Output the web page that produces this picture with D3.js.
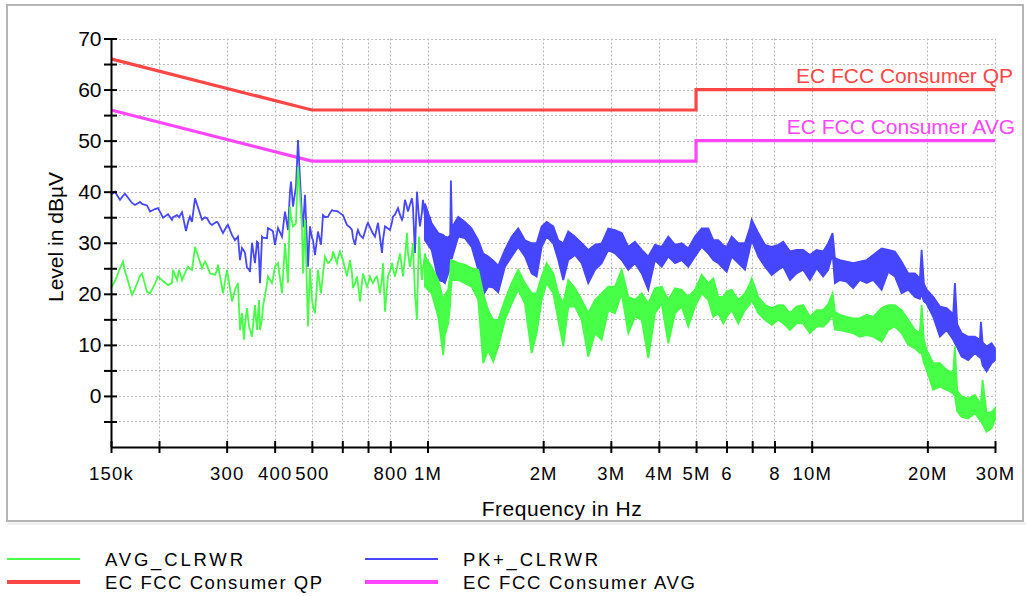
<!DOCTYPE html>
<html>
<head>
<meta charset="utf-8">
<script src="https://cdn.jsdelivr.net/npm/d3@7"></script>
<style>
  body { margin: 0; background: #fff; }
  svg { display: block; }
  text { font-family: "Liberation Sans", Arial, sans-serif; }
</style>
</head>
<body>
<div id="chart"></div>
<script>
// axis ticks (frequency in MHz)
const xTickVals = [0.15, 0.2, 0.3, 0.4, 0.5, 0.6, 0.7, 0.8, 1, 2, 3, 4, 5, 6, 7, 8, 10, 20, 30];
const xTickLabels = ['150k', '', '300', '400', '500', '', '', '800', '1M', '2M', '3M', '4M', '5M', '6', '', '8', '10M', '20M', '30M'];
const yTickVals = [-5, 0, 5, 10, 15, 20, 25, 30, 35, 40, 45, 50, 55, 60, 65, 70];

// limit lines
const limitFreq = [0.15, 0.5, 5, 5, 30];
const qpLimit = [66, 56, 56, 60, 60];
const avgLimit = [56, 46, 46, 50, 50];

// low frequency part, single trace points
const lowFreq = [0.1500, 0.1536, 0.1583, 0.1612, 0.1631, 0.1701, 0.1732, 0.1785, 0.1806, 0.1861,
  0.1895, 0.1953, 0.1988, 0.2049, 0.2111, 0.2162, 0.2175, 0.2228, 0.2255, 0.2296,
  0.2351, 0.2380, 0.2408, 0.2437, 0.2482, 0.2588, 0.2635, 0.2667, 0.2715, 0.2748,
  0.2798, 0.2831, 0.2848, 0.2935, 0.3006, 0.3024, 0.3098, 0.3154, 0.3211, 0.3250,
  0.3289, 0.3329, 0.3349, 0.3389, 0.3430, 0.3451, 0.3492, 0.3555, 0.3598, 0.3620,
  0.3642, 0.3664, 0.3708, 0.3730, 0.3821, 0.3843, 0.3937, 0.3960, 0.4008, 0.4081,
  0.4180, 0.4256, 0.4333, 0.4385, 0.4412, 0.4465, 0.4546, 0.4601, 0.4712, 0.4740,
  0.4798, 0.4885, 0.4943, 0.5003, 0.5033, 0.5094, 0.5186, 0.5281, 0.5344, 0.5409,
  0.5507, 0.5573, 0.5640, 0.5674, 0.5812, 0.5847, 0.5917, 0.6024, 0.6170, 0.6282,
  0.6358, 0.6396, 0.6473, 0.6551, 0.6591, 0.6670, 0.6792, 0.6957, 0.6999, 0.7083,
  0.7168, 0.7211, 0.7298, 0.7386, 0.7431, 0.7520, 0.7611, 0.7657, 0.7749, 0.7889,
  0.7985, 0.8081, 0.8129, 0.8227, 0.8377, 0.8478, 0.8580, 0.8631, 0.8735, 0.8841,
  0.8894, 0.9001, 0.9109, 0.9164, 0.9275, 0.9386, 0.9499, 0.9557, 0.9672, 0.9730,
  0.9849, 0.9968, 1.0028, 1.0148, 1.0332];
const pkLow = [39.4, 40.0, 38.4, 39.2, 39.6, 37.8, 37.4, 38.0, 37.6, 37.3,
  36.1, 36.6, 36.8, 34.9, 35.6, 34.5, 35.0, 35.4, 35.0, 36.0,
  32.3, 34.0, 35.1, 34.1, 38.7, 34.5, 35.0, 34.8, 33.8, 33.5,
  33.9, 34.1, 33.9, 31.9, 33.3, 33.5, 31.5, 30.5, 31.2, 26.6,
  29.0, 28.4, 28.0, 25.1, 24.8, 24.3, 30.0, 26.0, 30.2, 30.0,
  27.0, 22.1, 31.2, 31.0, 30.9, 32.9, 32.4, 32.2, 29.6, 32.9,
  31.2, 36.1, 32.5, 40.0, 42.0, 37.1, 41.0, 50.1, 35.1, 33.0,
  39.4, 25.3, 33.2, 31.0, 30.5, 27.6, 32.2, 29.6, 35.4, 35.0,
  35.1, 35.8, 36.4, 36.3, 36.2, 36.1, 35.8, 35.4, 33.5, 33.0,
  32.5, 31.0, 29.6, 31.8, 32.5, 31.5, 30.9, 33.5, 33.9, 33.0,
  32.2, 31.8, 31.2, 33.0, 33.9, 31.0, 28.0, 30.5, 33.2, 32.8,
  32.5, 34.0, 35.1, 35.5, 36.8, 35.5, 34.5, 35.0, 38.4, 37.0,
  36.1, 37.5, 38.7, 37.0, 28.0, 40.0, 35.0, 33.2, 36.0, 38.4,
  35.0, 32.5, 34.0, 35.1, 28.6];
const avgLow = [21.1, 22.5, 25.0, 26.3, 24.5, 19.8, 21.0, 23.5, 24.0, 20.4,
  20.1, 22.0, 23.4, 22.5, 21.7, 22.1, 24.7, 22.7, 24.7, 22.7,
  24.5, 25.3, 24.9, 24.7, 29.2, 25.0, 26.3, 25.5, 24.0, 23.9,
  23.7, 24.6, 25.7, 20.1, 24.7, 23.5, 18.5, 20.8, 22.1, 12.9,
  16.2, 11.0, 14.0, 17.2, 13.6, 13.0, 11.6, 17.8, 12.9, 16.0,
  18.8, 12.9, 15.0, 17.5, 22.0, 23.4, 22.1, 23.0, 25.3, 26.0,
  20.1, 29.9, 22.1, 37.1, 35.0, 33.2, 33.8, 44.9, 33.2, 24.0,
  34.5, 13.6, 25.0, 18.8, 17.5, 16.2, 24.7, 20.1, 24.0, 27.3,
  26.0, 26.3, 27.0, 28.3, 26.0, 27.0, 28.3, 26.6, 23.4, 26.6,
  24.0, 21.1, 22.0, 23.4, 22.0, 18.5, 24.0, 21.4, 22.0, 23.4,
  22.5, 22.1, 23.0, 23.4, 22.5, 20.1, 23.0, 26.0, 16.5, 23.4,
  24.5, 26.0, 25.0, 23.4, 26.0, 27.9, 25.0, 23.4, 27.0, 31.9,
  28.0, 25.3, 28.0, 29.9, 20.0, 14.9, 31.2, 28.0, 22.7, 25.0,
  27.9, 24.0, 20.8, 24.0, 23.4];

// dense part above 1 MHz: upper / lower edge of each trace
const bandFreq = [0.9845, 1.0249, 1.0662, 1.0987, 1.1099, 1.1321, 1.1457, 1.1506, 1.1575, 1.2022,
  1.2515, 1.3025, 1.3550, 1.3962, 1.4387, 1.4826, 1.5277, 1.5903, 1.6555, 1.7223,
  1.7929, 1.8664, 1.9232, 1.9817, 2.0420, 2.1245, 2.1892, 2.2559, 2.3246, 2.4199,
  2.5190, 2.6206, 2.7280, 2.8400, 2.9547, 3.0758, 3.2019, 3.3310, 3.4675, 3.6097,
  3.7554, 3.9093, 4.0695, 4.2336, 4.4070, 4.5876, 4.7726, 4.9682, 5.1717, 5.3804,
  5.5441, 5.7129, 5.8868, 6.0081, 6.1907, 6.4403, 6.7041, 6.9081, 6.9789, 7.2611,
  7.5584, 7.8681, 8.1856, 8.4348, 8.7810, 9.1313, 9.5002, 9.8926, 10.298, 10.713,
  11.039, 11.334, 11.491, 11.840, 12.326, 12.823, 13.349, 13.896, 14.457, 15.203,
  15.817, 16.465, 17.140, 17.832, 18.563, 19.128, 19.324, 19.592, 19.912, 20.716,
  21.565, 22.448, 23.354, 23.593, 23.920, 24.559, 25.550, 26.597, 27.407, 27.571,
  27.852, 28.527, 29.392, 30.0];
const pkHi = [37.7, 33.8, 31.9, 31.5, 31.2, 31.0, 31.5, 42.2, 33.0, 35.1,
  34.1, 32.8, 30.5, 27.9, 27.3, 26.5, 25.5, 28.6, 31.2, 32.8,
  30.5, 29.9, 29.9, 33.2, 34.1, 33.2, 30.5, 29.9, 32.2, 31.2,
  29.9, 28.6, 29.6, 29.9, 32.8, 32.5, 31.9, 29.2, 30.2, 28.6,
  27.3, 29.6, 29.2, 31.2, 29.6, 29.9, 28.9, 31.2, 32.8, 32.8,
  30.5, 30.5, 29.5, 29.2, 31.2, 29.9, 29.9, 33.0, 34.5, 31.9,
  29.6, 29.2, 29.6, 30.2, 28.3, 28.6, 28.6, 27.6, 28.6, 28.3,
  29.9, 31.9, 27.0, 26.6, 26.3, 26.0, 26.3, 26.6, 27.6, 28.9,
  28.6, 28.3, 26.3, 24.0, 24.0, 23.0, 28.6, 22.0, 20.8, 19.4,
  17.5, 17.2, 16.0, 22.1, 14.0, 12.3, 11.6, 11.6, 11.0, 14.5,
  10.5, 9.7, 10.3, 9.3];
const pkLo = [30.5, 28.6, 22.7, 22.4, 22.1, 24.0, 25.0, 27.0, 27.0, 31.2,
  30.9, 29.2, 24.7, 19.8, 21.4, 21.2, 20.3, 25.3, 27.3, 29.2,
  27.3, 24.0, 23.4, 29.2, 31.2, 29.9, 26.6, 22.7, 26.6, 27.6,
  26.0, 22.1, 24.7, 26.0, 28.6, 27.9, 26.6, 24.7, 26.0, 24.0,
  20.8, 26.6, 25.3, 27.3, 26.0, 26.6, 25.3, 27.3, 29.2, 27.9,
  26.6, 26.0, 25.0, 24.3, 27.3, 26.0, 24.7, 29.0, 30.5, 27.3,
  25.3, 23.7, 24.7, 25.3, 22.7, 24.0, 24.7, 22.7, 25.0, 23.4,
  24.7, 27.9, 22.1, 22.7, 22.4, 21.1, 22.7, 22.1, 22.7, 20.8,
  24.3, 23.4, 20.1, 20.8, 19.4, 19.0, 20.0, 18.5, 18.1, 15.5,
  11.6, 12.9, 11.0, 10.3, 9.5, 7.7, 7.0, 8.4, 7.5, 7.5,
  6.0, 4.8, 6.4, 7.0];
const avgHi = [27.3, 25.3, 22.7, 18.8, 19.8, 20.8, 24.0, 26.6, 26.6, 26.0,
  25.7, 25.0, 24.7, 20.1, 16.8, 14.9, 14.9, 18.8, 22.1, 24.7,
  22.1, 20.1, 20.1, 23.4, 26.0, 24.0, 20.1, 18.1, 22.7, 21.1,
  18.8, 16.2, 18.8, 20.1, 21.4, 21.4, 24.7, 19.4, 18.8, 20.1,
  18.1, 21.1, 21.4, 18.8, 21.1, 20.8, 19.4, 20.8, 23.7, 22.1,
  23.0, 19.4, 19.4, 20.5, 20.8, 18.8, 20.1, 22.0, 23.0, 19.4,
  17.8, 17.2, 17.8, 17.8, 16.2, 17.5, 17.8, 15.5, 16.8, 16.8,
  18.0, 20.1, 16.5, 15.9, 15.5, 15.2, 15.2, 15.9, 15.5, 17.2,
  17.8, 17.8, 16.8, 14.9, 12.9, 12.3, 17.8, 11.0, 9.0, 6.4,
  6.4, 5.1, 4.5, 9.7, 1.0, -0.1, -0.5, 0.2, -1.4, -1.4,
  3.1, -3.4, -3.1, -2.4];
const avgLo = [21.4, 20.1, 15.5, 8.0, 12.0, 14.2, 18.0, 21.0, 22.7, 22.7,
  22.1, 21.4, 18.8, 6.4, 9.0, 6.7, 9.7, 14.9, 18.1, 20.8,
  18.1, 8.4, 12.3, 18.8, 22.1, 20.1, 14.9, 9.7, 17.5, 17.5,
  14.9, 7.7, 12.3, 11.0, 16.8, 16.2, 20.1, 12.3, 15.5, 14.9,
  7.4, 16.2, 18.1, 10.3, 16.2, 17.5, 13.6, 17.5, 20.1, 18.8,
  15.5, 16.2, 14.2, 15.5, 16.8, 14.2, 16.8, 18.0, 18.8, 16.2,
  14.9, 13.9, 14.9, 14.2, 12.9, 14.2, 14.2, 12.3, 13.6, 13.6,
  14.5, 15.9, 13.0, 12.9, 12.6, 12.3, 11.6, 11.9, 11.6, 10.6,
  12.9, 13.6, 12.3, 10.0, 9.3, 8.4, 8.4, 6.5, 5.1, 1.2,
  1.8, 1.2, 0.5, 0.0, -3.0, -4.1, -4.4, -3.4, -4.7, -5.0,
  -5.5, -7.0, -6.3, -4.7];

const w = 1026;
const h = 596;
const colPk = '#4646ff';
const colAvg = '#46ff46';
const colQp = '#ff4646';
const colAvgLim = '#ff46ff';

const svg = d3.select('#chart').
  append('svg').
  attr('width', w).
  attr('height', h);

// frame
svg.append('rect').
  attr('x', 7).attr('y', 5).
  attr('width', 1016).attr('height', 516).
  attr('fill', 'none').
  attr('stroke', '#b4b4b4').
  attr('stroke-width', 2);
svg.append('line').
  attr('x1', 7).attr('x2', 1026).attr('y1', 523.5).attr('y2', 523.5).
  attr('stroke', '#ececec').attr('stroke-width', 2);

const xScale = d3.scaleLog().domain([0.15, 30]).range([111, 995]);
const yScale = d3.scaleLinear().domain([-10, 70]).range([447, 38.5]);

// grid
const grid = svg.append('g').
  attr('stroke', '#b8b8b8').
  attr('stroke-width', 1).
  attr('stroke-dasharray', '2,2');
grid.selectAll('.vg').
  data(xTickVals.slice(1)).
  enter().
  append('line').
  attr('x1', d => Math.round(xScale(d)) + 0.5).
  attr('x2', d => Math.round(xScale(d)) + 0.5).
  attr('y1', yScale(70)).
  attr('y2', yScale(-10));
grid.selectAll('.hg').
  data(yTickVals).
  enter().
  append('line').
  attr('x1', xScale(0.15)).
  attr('x2', xScale(30)).
  attr('y1', d => Math.round(yScale(d)) + 0.5).
  attr('y2', d => Math.round(yScale(d)) + 0.5);

// limit lines
const limitLine = d3.line().
  x(d => xScale(d[0])).
  y(d => yScale(d[1]));
svg.append('path').
  attr('d', limitLine(limitFreq.map((f, i) => [f, qpLimit[i]]))).
  attr('fill', 'none').
  attr('stroke', colQp).
  attr('stroke-width', 3.2);
svg.append('path').
  attr('d', limitLine(limitFreq.map((f, i) => [f, avgLimit[i]]))).
  attr('fill', 'none').
  attr('stroke', colAvgLim).
  attr('stroke-width', 3.2);

// traces
const traceLine = d3.line().
  x(d => xScale(d[0])).
  y(d => yScale(d[1]));
const band = d3.area().
  x(d => xScale(d[0])).
  y0(d => yScale(d[2])).
  y1(d => yScale(d[1]));

function drawTrace(vals, hi, lo, col) {
  svg.append('path').
    attr('d', band(bandFreq.map((f, i) => [f, hi[i], lo[i]]))).
    attr('fill', col).
    attr('stroke', col).
    attr('stroke-width', 1.8).
    attr('stroke-linejoin', 'miter');
  svg.append('path').
    attr('d', traceLine(lowFreq.map((f, i) => [f, vals[i]]))).
    attr('fill', 'none').
    attr('stroke', col).
    attr('stroke-width', 1.8);
}
drawTrace(pkLow, pkHi, pkLo, colPk);
drawTrace(avgLow, avgHi, avgLo, colAvg);

// axes
const yAxis = d3.axisLeft(yScale).
  tickValues(yTickVals).
  tickSizeInner(7).
  tickSizeOuter(0).
  tickFormat(d => d % 10 === 0 ? d : '');
const gy = svg.append('g').
  attr('transform', 'translate(111,0)').
  call(yAxis);
gy.select('.domain').attr('stroke', '#000').attr('stroke-width', 2);
gy.selectAll('.tick line').attr('x1', 6).attr('stroke-width', 2);
gy.selectAll('.tick text').
  attr('x', -9.5).
  attr('font-size', 21).
  attr('font-family', '"Liberation Sans", Arial, sans-serif').
  attr('fill', '#000');

const xAxis = d3.axisBottom(xScale).
  tickValues(xTickVals).
  tickSizeInner(6).
  tickSizeOuter(0).
  tickFormat((d, i) => xTickLabels[i]);
const gx = svg.append('g').
  attr('transform', 'translate(0,447)').
  call(xAxis);
gx.select('.domain').attr('stroke', '#000').attr('stroke-width', 2);
gx.selectAll('.tick line').attr('y1', -6).attr('stroke-width', 2);
gx.selectAll('.tick text').
  attr('y', 33).
  attr('dy', 0).
  attr('font-size', 18.5).
  attr('letter-spacing', 1.2).
  attr('font-family', '"Liberation Sans", Arial, sans-serif').
  attr('fill', '#000');

// axis titles
svg.append('text').
  attr('transform', 'translate(63,237) rotate(-90)').
  attr('text-anchor', 'middle').
  attr('font-size', 21).
  text('Level in dBµV');
svg.append('text').
  attr('x', 562).
  attr('y', 516).
  attr('text-anchor', 'middle').
  attr('font-size', 21).
  attr('letter-spacing', 0.5).
  text('Frequency in Hz');

// limit labels
svg.append('text').
  attr('x', 1013).
  attr('y', yScale(60) - 7).
  attr('text-anchor', 'end').
  attr('font-size', 21).
  attr('fill', colQp).
  text('EC FCC Consumer QP');
svg.append('text').
  attr('x', 1015).
  attr('y', yScale(50) - 7).
  attr('text-anchor', 'end').
  attr('font-size', 21).
  attr('fill', colAvgLim).
  text('EC FCC Consumer AVG');

// legend
const legendItems = [
  { name: 'AVG_CLRWR', col: colAvg, sw: 2, x: 7, tx: 105, y: 559, len: 138 },
  { name: 'PK+_CLRWR', col: colPk, sw: 2, x: 365, tx: 463, y: 559, len: 135 },
  { name: 'EC FCC Consumer QP', col: colQp, sw: 4, x: 7, tx: 105, y: 582, len: 217 },
  { name: 'EC FCC Consumer AVG', col: colAvgLim, sw: 4, x: 365, tx: 463, y: 582, len: 232 }
];
const leg = svg.selectAll('.leg').
  data(legendItems).
  enter().
  append('g');
leg.append('line').
  attr('x1', d => d.x).
  attr('x2', d => d.x + 73).
  attr('y1', d => d.y).
  attr('y2', d => d.y).
  attr('stroke', d => d.col).
  attr('stroke-width', d => d.sw);
leg.append('text').
  attr('x', d => d.tx).
  attr('y', d => d.y + 7).
  attr('font-size', 18.5).
  attr('textLength', d => d.len).
  attr('lengthAdjust', 'spacing').
  text(d => d.name);
</script>
</body>
</html>
